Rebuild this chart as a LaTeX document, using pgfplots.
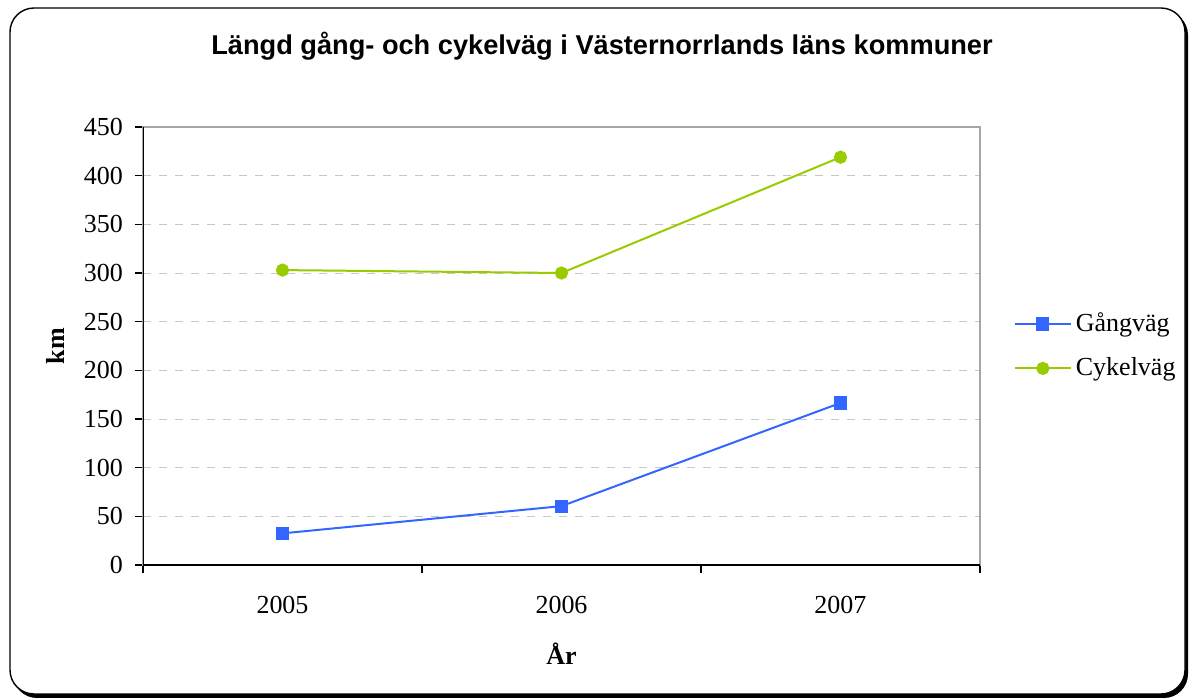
\documentclass[border=0pt]{standalone}
\usepackage{fontspec}
\setmainfont{Liberation Serif}
\newfontfamily\titlefont{Liberation Sans}
\usepackage{pgfplots}
\pgfplotsset{compat=1.18}
\definecolor{gblue}{HTML}{3366FF}
\definecolor{cgreen}{HTML}{99CC00}
\begin{document}
\begin{tikzpicture}
\useasboundingbox (0pt,0pt) rectangle (595.5pt,-350pt);
\fill[black, rounded corners=12pt] (6.5pt,-5.5pt) rectangle (594pt,-349pt);
\filldraw[fill=white, draw=black, line width=0.7pt, rounded corners=12pt] (5pt,-4pt) rectangle (592.5pt,-347pt);
\node[font=\titlefont\bfseries\fontsize{13.6}{15}\selectfont] at (301pt,-23pt) {Längd gång- och cykelväg i Västernorrlands läns kommuner};
\begin{axis}[
  at={(71.5pt,-282.5pt)}, anchor=south west,
  scale only axis, width=418.5pt, height=219pt,
  xmin=-0.5, xmax=2.5, ymin=0, ymax=450,
  xtick={0,1,2}, xticklabels={2005,2006,2007},
  minor xtick={-0.5,0.5,1.5,2.5},
  ytick={0,50,...,450},
  tick pos=left, tick align=outside,
  major x tick style={draw=none},
  minor tick length=4pt, major tick length=4pt,
  tick style={black, line width=0.6pt},
  ymajorgrids, grid style={gray!45, dashed, dash pattern=on 4pt off 4pt, line width=0.5pt},
  axis line style={draw=gray!70, line width=0.6pt},
  /pgf/number format/assume math mode=true,
  ticklabel style={font=\fontsize{13}{15}\selectfont},
  xticklabel style={yshift=-8pt},
  yticklabel style={/pgf/number format/1000 sep={}, xshift=-2.5pt},
  xlabel={\textbf{År}}, ylabel={\textbf{km}},
  label style={font=\fontsize{13}{15}\selectfont},
  xlabel style={yshift=-8pt},
  ylabel style={yshift=3pt},
  legend style={draw=none, at={(1.04,0.5)}, anchor=west, font=\fontsize{13}{15}\selectfont, row sep=7.5pt, inner sep=0pt},
  legend cell align=left,
  legend image code/.code={\draw[mark repeat=2,mark phase=2] plot coordinates {(0pt,0pt) (14pt,0pt) (28pt,0pt)};},
]
\addplot[gblue, line width=1pt, mark=square*, mark size=2.8pt, mark options={solid}] coordinates {(0,32.5) (1,60.5) (2,166.5)};
\addlegendentry{Gångväg}
\addplot[cgreen, line width=1pt, mark=*, mark size=2.8pt, mark options={solid}] coordinates {(0,303) (1,300) (2,419)};
\addlegendentry{Cykelväg}
\draw[black, line width=0.7pt] (rel axis cs:0,1) -- (rel axis cs:0,0) -- (rel axis cs:1,0);
\end{axis}
\end{tikzpicture}
\end{document}
